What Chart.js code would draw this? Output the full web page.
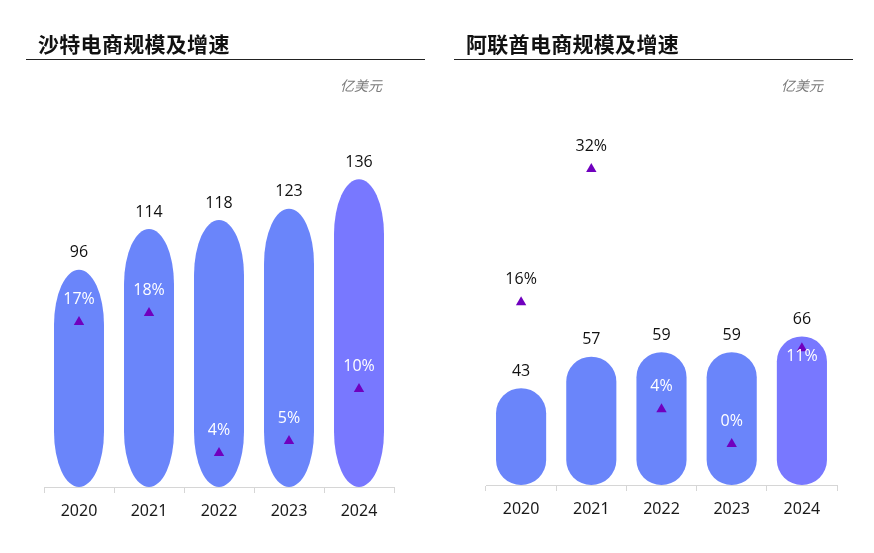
<!DOCTYPE html>
<html>
<head>
<meta charset="utf-8">
<script src="https://cdn.jsdelivr.net/npm/chart.js@4/dist/chart.umd.min.js"></script>
<style>
  body { margin: 0; background: #fff; width: 874px; height: 553px; overflow: hidden; position: relative; font-family: "Noto Sans CJK SC", "Noto Sans", sans-serif; }
  .box { position: absolute; top: 0; width: 437px; height: 553px; }
  .title { position: absolute; top: 28px; font-size: 21px; font-weight: bold; color: #111; letter-spacing: 0.3px; }
  .rule { position: absolute; top: 59px; height: 1px; background: #222; }
  .unit { position: absolute; top: 75px; font-size: 14px; font-style: italic; color: #7a7a7a; }
</style>
</head>
<body>
<div class="box" style="left:0"><canvas id="saudi"></canvas></div>
<div class="box" style="left:437px"><canvas id="uae"></canvas></div>

<div class="title" style="left:38px">沙特电商规模及增速</div>
<div class="rule" style="left:26px;width:399px"></div>
<div class="unit" style="left:340px">亿美元</div>

<div class="title" style="left:466px">阿联酋电商规模及增速</div>
<div class="rule" style="left:454px;width:399px"></div>
<div class="unit" style="left:781px">亿美元</div>

<script>
// data
var years = ['2020', '2021', '2022', '2023', '2024'];
var saudiScale = [96, 114, 118, 123, 136];      // 亿美元
var saudiGrowth = [17.1, 18.0, 4.0, 5.2, 10.4]; // %
var uaeScale = [43, 57, 59, 59, 66];
var uaeGrowth = [16.3, 31.6, 4.0, 0.0, 11.0];

var BLUE = '#6A85FA', VIOLET = '#7878FF', TRI = '#7000BE';
var numFont = '"Open Sans", "Noto Sans", sans-serif';

// bars with elliptical ends, drawn from the bar element geometry
var pillBars = {
  id: 'pillBars',
  beforeDatasetDraw: function (chart, args, opts) {
    if (args.meta.type !== 'bar') return;
    var ctx = chart.ctx;
    var ds = chart.data.datasets[args.index];
    args.meta.data.forEach(function (bar, i) {
      var rx = bar.width / 2, h = bar.base - bar.y;
      var ry = Math.min(opts.ry, h / 2);
      ctx.save();
      ctx.fillStyle = ds.backgroundColor[i];
      ctx.beginPath();
      ctx.ellipse(bar.x, bar.y + ry, rx, ry, 0, Math.PI, 2 * Math.PI);
      ctx.lineTo(bar.x + rx, bar.base - ry);
      ctx.ellipse(bar.x, bar.base - ry, rx, ry, 0, 0, Math.PI);
      ctx.closePath();
      ctx.fill();
      ctx.restore();
    });
    return false;
  }
};

// value labels above bars, growth labels above triangles
var barLabels = {
  id: 'barLabels',
  afterDatasetsDraw: function (chart) {
    var ctx = chart.ctx;
    var bars = chart.getDatasetMeta(0).data;
    var pts = chart.getDatasetMeta(1).data;
    var vals = chart.data.datasets[0].data;
    var grow = chart.data.datasets[1].data;
    ctx.save();
    ctx.font = '500 16px ' + numFont;
    ctx.textAlign = 'center';
    ctx.textBaseline = 'middle';
    bars.forEach(function (bar, i) {
      var vy = bar.y - 17;
      ctx.fillStyle = '#111';
      ctx.fillText(vals[i], bar.x, vy);
      var p = pts[i];
      var ly = p.y - 23;
      if (Math.abs(ly - vy) < 18) ly = p.y + 8;
      ctx.fillStyle = ly > bar.y + 8 ? '#fff' : '#111';
      ctx.fillText(Math.round(grow[i]) + '%', p.x, ly);
    });
    ctx.restore();
  }
};

function makeChart(id, scale, growth, padL, padR, axisH, ry, gMin, gMax) {
  var colors = scale.map(function (v, i) { return i === scale.length - 1 ? VIOLET : BLUE; });
  return new Chart(document.getElementById(id), {
    type: 'bar',
    data: {
      labels: years,
      datasets: [{
        type: 'bar',
        data: scale,
        backgroundColor: colors,
        barPercentage: 0.714,
        categoryPercentage: 1,
        yAxisID: 'y',
        order: 2
      }, {
        type: 'line',
        data: growth,
        showLine: false,
        pointStyle: 'triangle',
        pointRadius: 6,
        pointBackgroundColor: TRI,
        pointBorderColor: TRI,
        pointBorderWidth: 0,
        yAxisID: 'y1',
        order: 1
      }]
    },
    options: {
      responsive: true,
      maintainAspectRatio: false,
      animation: false,
      events: [],
      layout: { padding: { left: padL, right: padR, top: 100, bottom: 0 } },
      plugins: {
        legend: { display: false },
        tooltip: { enabled: false },
        pillBars: { ry: ry }
      },
      scales: {
        x: {
          offset: true,
          grid: { offset: true, drawOnChartArea: false, tickLength: 6, color: '#d6d6d6' },
          border: { color: '#d6d6d6' },
          ticks: { color: '#1a1a1a', padding: 9, font: { family: '"Noto Sans", sans-serif', size: 16 } },
          afterFit: function (axis) { axis.height = axisH; }
        },
        y: { display: false, min: 0, max: 171 },
        y1: { display: false, min: gMin, max: gMax }
      }
    },
    plugins: [pillBars, barLabels]
  });
}

makeChart('saudi', saudiScale, saudiGrowth, 44, 43, 66, 55, 0.6, 39.3);
makeChart('uae', uaeScale, uaeGrowth, 49, 37, 68, 25, -4.71, 39.54);
</script>
</body>
</html>
